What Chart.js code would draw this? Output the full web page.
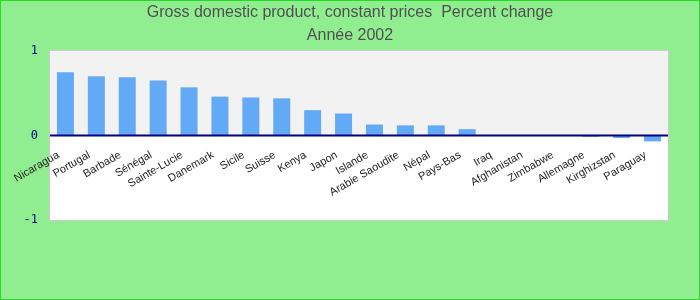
<!DOCTYPE html>
<html>
<head>
<meta charset="utf-8">
<script src="https://cdn.jsdelivr.net/npm/chart.js@4.4.0/dist/chart.umd.min.js"></script>
<style>
  html, body { margin: 0; padding: 0; background: #90EE90; }
  #wrap { width: 700px; height: 300px; position: relative; }
</style>
</head>
<body>
<div id="wrap"><canvas id="gdpChart"></canvas></div>
<script>
const countries = ['Nicaragua', 'Portugal', 'Barbade', 'Sénégal', 'Sainte-Lucie', 'Danemark', 'Sicile', 'Suisse', 'Kenya', 'Japon',
  'Islande', 'Arabie Saoudite', 'Népal', 'Pays-Bas', 'Iraq', 'Afghanistan', 'Zimbabwe', 'Allemagne', 'Kirghizstan', 'Paraguay'];
const growth = [0.75, 0.70, 0.69, 0.65, 0.57, 0.46, 0.45, 0.44, 0.30, 0.26,
  0.13, 0.12, 0.12, 0.075, 0, 0, 0, -0.015, -0.03, -0.07];
const yTicks = [-1, 0, 1];
const titleLines = ['Gross domestic product, constant prices  Percent change', 'Année 2002'];

// background, split plot area, frame and centred title
const backdrop = {
  id: 'backdrop',
  beforeDraw(chart) {
    const ctx = chart.ctx;
    const a = chart.chartArea;
    const y0 = chart.scales.y.getPixelForValue(0);
    ctx.save();
    ctx.fillStyle = '#90EE90';
    ctx.fillRect(0, 0, chart.width, chart.height);
    ctx.strokeStyle = '#22DD22';
    ctx.lineWidth = 1;
    ctx.strokeRect(0.5, 0.5, chart.width - 1, chart.height - 1);
    ctx.fillStyle = '#F2F2F2';
    ctx.fillRect(a.left, a.top, a.right - a.left, y0 - a.top);
    ctx.fillStyle = '#FFFFFF';
    ctx.fillRect(a.left, y0, a.right - a.left, a.bottom - y0);
    ctx.strokeStyle = '#CCCCCC';
    ctx.strokeRect(a.left - 0.5, a.top - 0.5, a.right - a.left + 1, a.bottom - a.top + 1);

    ctx.fillStyle = '#505050';
    ctx.font = '16px "Liberation Sans", Arial, sans-serif';
    ctx.textAlign = 'center';
    ctx.textBaseline = 'middle';
    titleLines.forEach((t, i) => ctx.fillText(t, chart.width / 2, 13 + i * 23));
    ctx.restore();
  },
  afterDatasetsDraw(chart) {
    const ctx = chart.ctx;
    const a = chart.chartArea;
    const y0 = chart.scales.y.getPixelForValue(0);
    ctx.save();
    ctx.strokeStyle = '#000080';
    ctx.lineWidth = 2;
    ctx.beginPath();
    ctx.moveTo(a.left, y0);
    ctx.lineTo(a.right, y0);
    ctx.stroke();
    ctx.restore();
  }
};

new Chart(document.getElementById('gdpChart'), {
  type: 'bar',
  data: {
    labels: countries,
    datasets: [{
      data: growth,
      backgroundColor: '#62AAF5',
      barPercentage: 0.55,
      categoryPercentage: 1.0
    }]
  },
  options: {
    responsive: true,
    maintainAspectRatio: false,
    animation: false,
    layout: { padding: { top: 51, left: 10, right: 32, bottom: 80 } },
    plugins: {
      legend: { display: false },
      tooltip: { enabled: false },
      title: { display: false }
    },
    scales: {
      x: {
        position: { y: 0 },
        grid: { display: false },
        border: { display: false },
        ticks: {
          color: '#222222',
          font: { family: 'Liberation Sans, Arial, sans-serif', size: 11 },
          minRotation: 30,
          maxRotation: 30,
          autoSkip: false,
          labelOffset: -7,
          padding: 5
        }
      },
      y: {
        min: -1,
        max: 1,
        afterFit(scale) { scale.width = 40; },
        afterBuildTicks(scale) { scale.ticks = yTicks.map(v => ({ value: v })); },
        grid: { display: false },
        border: { display: false },
        ticks: {
          color: '#00008B',
          font: { family: 'DejaVu Sans Mono, monospace', size: 12 },
          padding: 4
        }
      }
    }
  },
  plugins: [backdrop]
});
</script>
</body>
</html>
